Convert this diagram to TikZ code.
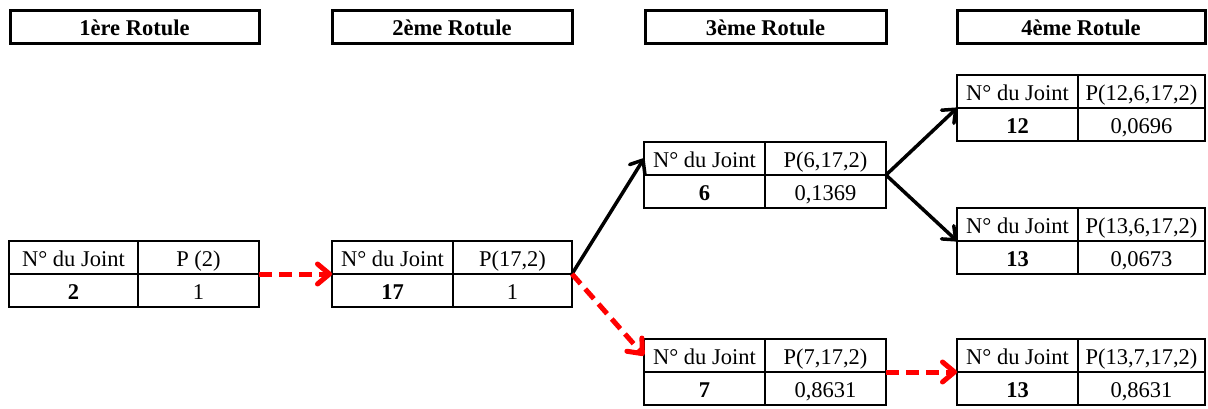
\documentclass[tikz,border=0pt]{standalone}
\usepackage{fontspec}
\setmainfont{Liberation Serif}
\usetikzlibrary{arrows.meta}
\tikzset{
  cell/.style={draw, line width=2pt, anchor=north west, outer sep=0pt, inner sep=0pt,
    minimum height=33pt, text height=17pt, text depth=0pt, font=\fontsize{22.5}{26}\selectfont},
  hdr/.style={draw, line width=3pt, anchor=north west, outer sep=0pt, inner sep=0pt,
    minimum height=33pt, text height=17pt, text depth=0pt, font=\bfseries\fontsize{22.5}{26}\selectfont},
  blackarrow/.style={black, line width=3.5pt, -{Straight Barb[length=11pt,width=18pt,round]}},
  redarrow/.style={red, line width=5pt, dash pattern=on 13pt off 7pt,
    -{Straight Barb[length=12pt,width=20pt,round]}},
}
\newcommand\jtable[8]{%
  \node[cell, minimum width={(#3-#2)*1pt}] (#1-a) at (#2,#5) {N° du Joint};
  \node[cell, minimum width={(#4-#3)*1pt}] (#1-b) at (#3,#5) {#6};
  \node[cell, minimum width={(#3-#2)*1pt}] (#1-c) at (#2,#5+33) {\bfseries #7};
  \node[cell, minimum width={(#4-#3)*1pt}] (#1-d) at (#3,#5+33) {#8};
}
\begin{document}
\begin{tikzpicture}[x=1pt,y=-1pt]
\useasboundingbox (0,0) rectangle (1208,408);
% headers
\node[hdr, minimum width=249pt] (h1) at (10,10) {1ère Rotule};
\node[hdr, minimum width=240pt] (h2) at (332,10) {2ème Rotule};
\node[hdr, minimum width=241pt] (h3) at (645,10) {3ème Rotule};
\node[hdr, minimum width=248pt] (h4) at (957,10) {4ème Rotule};
% tables
\jtable{t1}{9}{138}{259}{241}{P (2)}{2}{1}
\jtable{t2}{332}{453}{572}{241}{P(17,2)}{17}{1}
\jtable{t6}{644}{765}{886}{142}{P(6,17,2)}{6}{0,1369}
\jtable{t7}{644}{765}{886}{339}{P(7,17,2)}{7}{0,8631}
\jtable{t12}{957}{1078}{1205}{75}{P(12,6,17,2)}{12}{0,0696}
\jtable{t13a}{957}{1078}{1205}{208}{P(13,6,17,2)}{13}{0,0673}
\jtable{t13b}{957}{1078}{1205}{339}{P(13,7,17,2)}{13}{0,8631}
% connectors
\draw[redarrow] (t1-b.south east) -- (t2-a.south west);
\draw[blackarrow] (t2-b.south east) -- (t6-a.west);
\draw[redarrow] (t2-b.south east) -- (t7-a.west);
\draw[blackarrow] (t6-b.south east) -- (t12-a.south west);
\draw[blackarrow] (t6-b.south east) -- (t13a-a.south west);
\draw[redarrow] (t7-b.south east) -- (t13b-a.south west);
\end{tikzpicture}
\end{document}
